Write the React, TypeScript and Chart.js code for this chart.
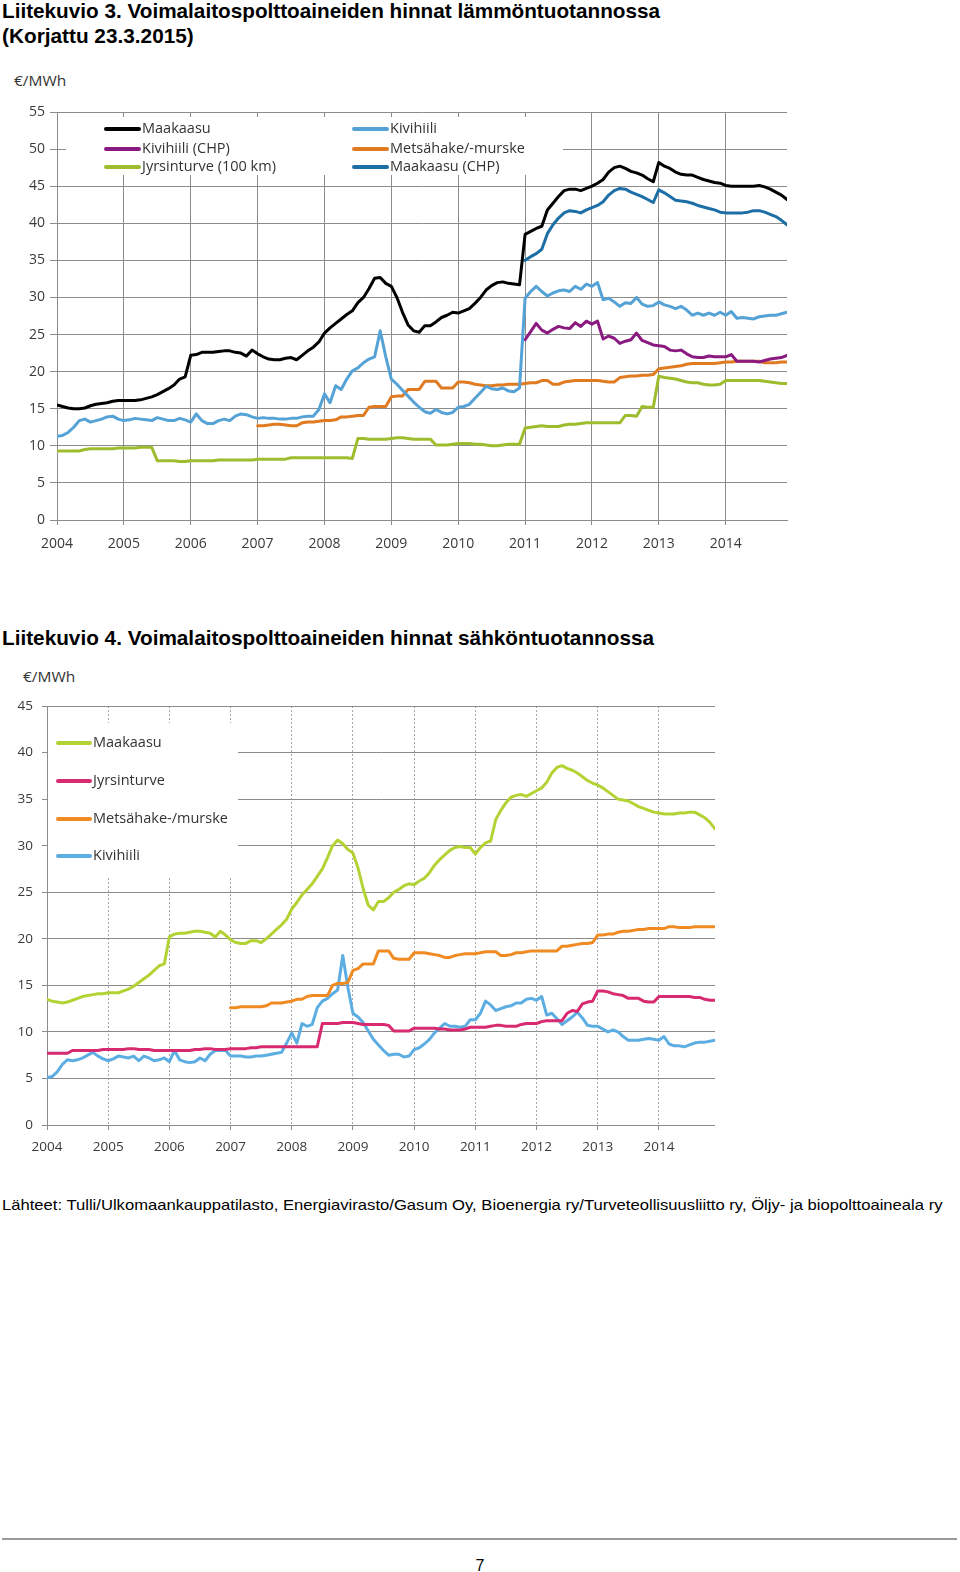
import React, { useEffect, useLayoutEffect, useRef, useState } from 'react';
import { Chart, registerables } from 'chart.js';

Chart.register(...registerables);

// ---------------- shared axis data ----------------
const FIRST_YEAR = 2004;
const YEAR_LABELS = ['2004', '2005', '2006', '2007', '2008', '2009', '2010', '2011', '2012', '2013', '2014'];
const LAST_MONTH_INDEX = 131; // Dec 2014

// ---------------- Liitekuvio 3 (lämmöntuotanto), €/MWh, monthly ----------------
const HEAT_Y_MAX = 55;
const HEAT_MAAKAASU = [
  15.5, 15.3, 15.1, 15.0, 15.0, 15.1, 15.4, 15.6, 15.7, 15.8, 16.0, 16.1,
  16.1, 16.1, 16.1, 16.2, 16.4, 16.6, 16.9, 17.3, 17.7, 18.2, 19.0, 19.3,
  22.2, 22.3, 22.6, 22.6, 22.6, 22.7, 22.8, 22.8, 22.6, 22.5, 22.1, 22.9,
  22.4, 22.0, 21.7, 21.6, 21.6, 21.8, 21.9, 21.6, 22.2, 22.8, 23.3, 24.0,
  25.2, 25.9, 26.5, 27.1, 27.7, 28.2, 29.3, 30.0, 31.2, 32.6, 32.7, 31.9,
  31.5, 30.0, 28.0, 26.3, 25.5, 25.3, 26.2, 26.2, 26.7, 27.3, 27.6, 28.0,
  27.9, 28.2, 28.5, 29.2, 30.0, 31.0, 31.6, 32.0, 32.1, 31.9, 31.8, 31.7,
  38.5, 38.9, 39.3, 39.6, 41.8, 42.7, 43.6, 44.4, 44.6, 44.6, 44.4, 44.7,
  45.0, 45.4, 45.9, 46.9, 47.5, 47.7, 47.4, 47.0, 46.8, 46.5, 46.0, 45.6,
  48.2, 47.7, 47.4, 46.9, 46.6, 46.5, 46.5, 46.2, 45.9, 45.7, 45.5, 45.4,
  45.1, 45.0, 45.0, 45.0, 45.0, 45.0, 45.1, 44.9, 44.6, 44.2, 43.8, 43.2,
];
const HEAT_KIVIHIILI = [
  11.3, 11.4, 11.8, 12.5, 13.4, 13.6, 13.2, 13.4, 13.6, 13.9, 14.0, 13.6,
  13.4, 13.5, 13.7, 13.6, 13.5, 13.4, 13.8, 13.6, 13.4, 13.4, 13.7, 13.5,
  13.2, 14.3, 13.4, 13.0, 13.0, 13.4, 13.6, 13.4, 14.0, 14.3, 14.2, 13.9,
  13.7, 13.8, 13.7, 13.7, 13.6, 13.6, 13.7, 13.7, 13.9, 14.0, 14.0, 14.9,
  17.0, 15.8, 18.1, 17.6, 19.0, 20.1, 20.5, 21.2, 21.7, 22.0, 25.5, 22.0,
  19.0, 18.3, 17.5, 16.7, 15.9, 15.2, 14.6, 14.4, 14.9, 14.5, 14.3, 14.5,
  15.2, 15.3, 15.6, 16.4, 17.2, 18.0, 17.7, 17.6, 17.8, 17.4, 17.3, 17.8,
  29.9, 30.8, 31.5, 30.8, 30.2, 30.6, 30.9, 31.0, 30.8, 31.5, 31.1, 31.8,
  31.5, 32.0, 29.7, 29.9, 29.4, 28.8, 29.3, 29.2, 30.0, 29.1, 28.8, 28.9,
  29.4, 29.0, 28.8, 28.5, 28.8, 28.3, 27.6, 27.9, 27.6, 27.9, 27.6, 28.0,
  27.6, 28.1, 27.2, 27.3, 27.2, 27.1, 27.4, 27.5, 27.6, 27.6, 27.8, 28.0,
];
const HEAT_KIVIHIILI_CHP_START = 2011;
const HEAT_KIVIHIILI_CHP = [
  24.3, 25.4, 26.5, 25.6, 25.2, 25.7, 26.1, 25.9, 25.8, 26.6, 26.1, 26.8,
  26.4, 26.8, 24.4, 24.8, 24.5, 23.8, 24.1, 24.3, 25.2, 24.2, 23.9, 23.6,
  23.5, 23.4, 22.9, 22.8, 22.9, 22.4, 22.0, 21.9, 21.9, 22.1, 22.0, 22.0,
  22.0, 22.3, 21.4, 21.4, 21.4, 21.4, 21.3, 21.5, 21.7, 21.8, 21.9, 22.2,
];
const HEAT_METSAHAKE_START = 2007;
const HEAT_METSAHAKE = [
  12.7, 12.7, 12.8, 12.9, 12.9, 12.8, 12.7, 12.7, 13.1, 13.2, 13.2, 13.3,
  13.4, 13.4, 13.5, 13.9, 13.9, 14.0, 14.1, 14.1, 15.2, 15.3, 15.3, 15.3,
  16.6, 16.7, 16.7, 17.6, 17.6, 17.6, 18.7, 18.7, 18.7, 17.8, 17.8, 17.8,
  18.6, 18.6, 18.5, 18.3, 18.2, 18.1, 18.1, 18.2, 18.2, 18.3, 18.3, 18.3,
  18.4, 18.5, 18.5, 18.8, 18.8, 18.3, 18.3, 18.6, 18.7, 18.8, 18.8, 18.8,
  18.8, 18.8, 18.7, 18.6, 18.6, 19.2, 19.3, 19.4, 19.4, 19.5, 19.5, 19.6,
  20.4, 20.5, 20.6, 20.7, 20.8, 21.0, 21.1, 21.1, 21.1, 21.1, 21.1, 21.2,
  21.3, 21.3, 21.4, 21.4, 21.4, 21.4, 21.4, 21.2, 21.2, 21.2, 21.3, 21.3,
];
const HEAT_JYRSINTURVE = [
  9.3, 9.3, 9.3, 9.3, 9.3, 9.5, 9.6, 9.6, 9.6, 9.6, 9.6, 9.7,
  9.7, 9.7, 9.7, 9.8, 9.8, 9.8, 8.0, 8.0, 8.0, 8.0, 7.9, 7.9,
  8.0, 8.0, 8.0, 8.0, 8.0, 8.1, 8.1, 8.1, 8.1, 8.1, 8.1, 8.1,
  8.2, 8.2, 8.2, 8.2, 8.2, 8.2, 8.4, 8.4, 8.4, 8.4, 8.4, 8.4,
  8.4, 8.4, 8.4, 8.4, 8.4, 8.3, 11.0, 11.0, 10.9, 10.9, 10.9, 10.9,
  11.0, 11.1, 11.1, 11.0, 10.9, 10.9, 10.9, 10.9, 10.1, 10.1, 10.1, 10.2,
  10.3, 10.3, 10.3, 10.2, 10.2, 10.1, 10.0, 10.0, 10.1, 10.2, 10.2, 10.2,
  12.4, 12.5, 12.6, 12.7, 12.6, 12.6, 12.6, 12.8, 12.9, 12.9, 13.0, 13.1,
  13.1, 13.1, 13.1, 13.1, 13.1, 13.1, 14.1, 14.1, 14.0, 15.3, 15.2, 15.2,
  19.4, 19.2, 19.1, 19.0, 18.8, 18.6, 18.5, 18.5, 18.3, 18.2, 18.2, 18.3,
  18.8, 18.8, 18.8, 18.8, 18.8, 18.8, 18.8, 18.7, 18.6, 18.5, 18.4, 18.4,
];
const HEAT_MAAKAASU_CHP_START = 2011;
const HEAT_MAAKAASU_CHP = [
  35.0, 35.5, 35.9, 36.5, 38.6, 39.8, 40.7, 41.4, 41.7, 41.6, 41.4, 41.8,
  42.1, 42.4, 42.9, 43.8, 44.4, 44.7, 44.6, 44.2, 43.9, 43.6, 43.2, 42.8,
  44.5, 44.1, 43.6, 43.1, 43.0, 42.9, 42.7, 42.4, 42.2, 42.0, 41.8, 41.5,
  41.4, 41.4, 41.4, 41.4, 41.5, 41.7, 41.7, 41.5, 41.2, 40.9, 40.4, 39.8,
];

// ---------------- Liitekuvio 4 (sähköntuotanto), €/MWh, monthly ----------------
const EL_Y_MAX = 45;
const EL_MAAKAASU = [
  13.5, 13.3, 13.2, 13.1, 13.2, 13.4, 13.6, 13.8, 13.9, 14.0, 14.1, 14.1,
  14.2, 14.2, 14.2, 14.4, 14.6, 14.9, 15.3, 15.7, 16.1, 16.6, 17.1, 17.3,
  20.2, 20.5, 20.6, 20.6, 20.7, 20.8, 20.8, 20.7, 20.6, 20.2, 20.8, 20.4,
  19.9, 19.6, 19.5, 19.5, 19.8, 19.8, 19.6, 20.0, 20.5, 21.0, 21.5, 22.1,
  23.2, 23.9, 24.7, 25.3, 25.9, 26.7, 27.5, 28.7, 30.0, 30.6, 30.2, 29.6,
  29.2, 27.6, 25.4, 23.6, 23.1, 24.0, 24.0, 24.4, 25.0, 25.3, 25.7, 25.9,
  25.8, 26.2, 26.5, 27.1, 27.9, 28.5, 29.0, 29.5, 29.8, 29.9, 29.8, 29.8,
  29.1, 29.8, 30.3, 30.5, 32.8, 33.8, 34.6, 35.2, 35.4, 35.5, 35.3, 35.6,
  35.9, 36.2, 36.8, 37.8, 38.4, 38.6, 38.3, 38.1, 37.8, 37.4, 37.0, 36.7,
  36.5, 36.2, 35.8, 35.4, 35.0, 34.9, 34.8, 34.5, 34.2, 34.0, 33.8, 33.6,
  33.5, 33.4, 33.4, 33.4, 33.5, 33.5, 33.6, 33.6, 33.3, 33.0, 32.5, 31.8,
];
const EL_JYRSINTURVE = [
  7.7, 7.7, 7.7, 7.7, 7.7, 8.0, 8.0, 8.0, 8.0, 8.0, 8.0, 8.1,
  8.1, 8.1, 8.1, 8.1, 8.2, 8.2, 8.1, 8.1, 8.1, 8.0, 8.0, 8.0,
  8.0, 8.0, 8.0, 8.0, 8.0, 8.1, 8.1, 8.2, 8.2, 8.1, 8.1, 8.1,
  8.2, 8.2, 8.2, 8.2, 8.3, 8.3, 8.4, 8.4, 8.4, 8.4, 8.4, 8.4,
  8.4, 8.4, 8.4, 8.4, 8.4, 8.4, 10.9, 10.9, 10.9, 10.9, 11.0, 11.0,
  11.0, 10.9, 10.8, 10.8, 10.8, 10.8, 10.8, 10.7, 10.1, 10.1, 10.1, 10.1,
  10.4, 10.4, 10.4, 10.4, 10.4, 10.3, 10.3, 10.2, 10.2, 10.2, 10.3, 10.5,
  10.5, 10.5, 10.5, 10.6, 10.7, 10.7, 10.6, 10.6, 10.6, 10.8, 10.9, 10.9,
  10.9, 11.1, 11.2, 11.2, 11.2, 11.2, 12.0, 12.3, 12.2, 13.0, 13.2, 13.3,
  14.4, 14.4, 14.3, 14.1, 14.0, 13.9, 13.6, 13.6, 13.6, 13.3, 13.2, 13.2,
  13.8, 13.8, 13.8, 13.8, 13.8, 13.8, 13.8, 13.7, 13.7, 13.5, 13.4, 13.4,
];
const EL_METSAHAKE_START = 2007;
const EL_METSAHAKE = [
  12.6, 12.6, 12.7, 12.7, 12.7, 12.7, 12.7, 12.8, 13.1, 13.1, 13.1, 13.2,
  13.3, 13.5, 13.5, 13.8, 13.9, 13.9, 13.9, 13.9, 15.0, 15.2, 15.2, 15.3,
  16.6, 16.8, 17.3, 17.3, 17.3, 18.7, 18.7, 18.7, 17.9, 17.8, 17.8, 17.8,
  18.5, 18.5, 18.5, 18.4, 18.3, 18.2, 18.0, 18.0, 18.2, 18.3, 18.4, 18.4,
  18.4, 18.5, 18.6, 18.6, 18.6, 18.2, 18.2, 18.3, 18.5, 18.5, 18.6, 18.7,
  18.7, 18.7, 18.7, 18.7, 18.7, 19.2, 19.2, 19.3, 19.4, 19.5, 19.5, 19.6,
  20.4, 20.4, 20.5, 20.5, 20.7, 20.8, 20.8, 20.9, 21.0, 21.0, 21.1, 21.1,
  21.1, 21.1, 21.3, 21.3, 21.2, 21.2, 21.2, 21.3, 21.3, 21.3, 21.3, 21.3,
];
const EL_KIVIHIILI = [
  5.1, 5.2, 5.7, 6.5, 7.0, 6.9, 7.0, 7.2, 7.5, 7.8, 7.4, 7.1,
  6.9, 7.1, 7.4, 7.3, 7.2, 7.4, 6.9, 7.4, 7.2, 6.9, 7.0, 7.2,
  6.8, 8.0, 7.0, 6.8, 6.7, 6.8, 7.2, 6.9, 7.6, 8.0, 8.0, 8.0,
  7.4, 7.4, 7.4, 7.3, 7.3, 7.4, 7.4, 7.5, 7.6, 7.7, 7.8, 8.8,
  9.9, 8.8, 10.9, 10.6, 10.8, 12.6, 13.3, 13.6, 14.1, 14.5, 18.2, 14.8,
  12.0, 11.6, 11.0, 10.1, 9.2, 8.6, 8.0, 7.5, 7.6, 7.6, 7.3, 7.4,
  8.1, 8.3, 8.7, 9.2, 9.9, 10.4, 10.9, 10.6, 10.6, 10.5, 10.6, 11.3,
  11.3, 12.0, 13.3, 12.9, 12.3, 12.5, 12.7, 12.8, 13.1, 13.1, 13.5, 13.6,
  13.4, 13.8, 11.8, 12.0, 11.4, 10.8, 11.2, 11.6, 12.1, 11.5, 10.7, 10.6,
  10.6, 10.3, 10.0, 10.2, 10.0, 9.5, 9.1, 9.1, 9.1, 9.2, 9.3, 9.2,
  9.1, 9.5, 8.7, 8.5, 8.5, 8.4, 8.6, 8.8, 8.9, 8.9, 9.0, 9.1,
];

// ---------------- helpers ----------------
function monthly(values: number[], startYear: number = FIRST_YEAR) {
  const off = (startYear - FIRST_YEAR) * 12;
  return values.map((y, i) => ({ x: off + i, y }));
}

function lineDs(label: string, color: string, data: { x: number; y: number }[]) {
  return {
    label,
    data,
    borderColor: color,
    backgroundColor: color,
    borderWidth: 3,
    pointRadius: 0,
    pointHoverRadius: 0,
    tension: 0,
    fill: false,
    borderJoinStyle: 'round' as const,
    borderCapStyle: 'round' as const,
  };
}

const boxLegend = {
  id: 'boxLegend',
  beforeDatasetsDraw(chart: any, _args: any, opts: any) {
    const { ctx } = chart;
    ctx.save();
    ctx.fillStyle = '#ffffff';
    ctx.fillRect(opts.box.x, opts.box.y, opts.box.w, opts.box.h);
    chart.data.datasets.forEach((ds: any, i: number) => {
      const s = opts.slots[i];
      if (!s) return;
      ctx.strokeStyle = ds.borderColor;
      ctx.lineWidth = opts.lineWidth;
      ctx.lineCap = 'round';
      ctx.beginPath();
      ctx.moveTo(s.x + 1, s.y);
      ctx.lineTo(s.x + opts.sample - 1, s.y);
      ctx.stroke();
      ctx.fillStyle = opts.color;
      ctx.font = opts.font;
      ctx.textAlign = 'left';
      ctx.textBaseline = 'middle';
      ctx.fillText(ds.label, s.x + opts.sample + 2, s.y);
    });
    ctx.restore();
  },
};

const TICK_COLOR = '#3a3a3a';
const GRID_COLOR = '#8c8c8c';

function makeConfig(p: {
  datasets: any[];
  yMax: number;
  yWidth: number;
  xHeight: number;
  padTop: number;
  padRight: number;
  yTickLen: number;
  yPad: number;
  xTickLen: number;
  xPad: number;
  tickSize: number;
  dottedX: boolean;
  legend: any;
}) {
  return {
    type: 'line' as const,
    data: { datasets: p.datasets },
    plugins: [boxLegend],
    options: {
      responsive: false,
      animation: false as const,
      devicePixelRatio: 1,
      events: [],
      layout: { padding: { top: p.padTop, right: p.padRight, left: 0, bottom: 0 } },
      plugins: {
        legend: { display: false },
        tooltip: { enabled: false },
        boxLegend: p.legend,
      },
      scales: {
        x: {
          type: 'linear' as const,
          min: 0,
          max: LAST_MONTH_INDEX,
          afterFit: (s: any) => { s.height = p.xHeight; },
          ticks: {
            stepSize: 12,
            includeBounds: false,
            autoSkip: false,
            maxRotation: 0,
            padding: p.xPad,
            color: TICK_COLOR,
            font: { family: 'Open Sans', size: p.tickSize },
            callback: (v: number) => YEAR_LABELS[Math.round(v / 12)] ?? '',
          },
          grid: {
            color: p.dottedX ? '#a6a6a6' : GRID_COLOR,
            lineWidth: 1,
            tickLength: p.xTickLen,
            tickColor: GRID_COLOR,
            tickBorderDash: [1, 0],
            borderDash: p.dottedX ? [2, 2] : [],
          },
          border: { display: !p.dottedX, color: GRID_COLOR, width: 1, dash: p.dottedX ? [2, 2] : [] },
        },
        y: {
          type: 'linear' as const,
          min: 0,
          max: p.yMax,
          afterFit: (s: any) => { s.width = p.yWidth; },
          ticks: {
            stepSize: 5,
            padding: p.yPad,
            color: TICK_COLOR,
            font: { family: 'Open Sans', size: p.tickSize },
          },
          grid: { color: GRID_COLOR, lineWidth: 1, tickLength: p.yTickLen, tickColor: GRID_COLOR },
          border: { display: true, color: GRID_COLOR, width: 1 },
        },
      },
    },
  };
}

function ChartCanvas({ make, left, top, width, height }: any) {
  const ref = useRef<HTMLCanvasElement>(null);
  useEffect(() => {
    if (!ref.current) return;
    const chart = new Chart(ref.current, make());
    return () => chart.destroy();
  }, []);
  return (
    <canvas
      ref={ref}
      width={width}
      height={height}
      style={{ position: 'absolute', left, top, width, height, display: 'block' }}
    />
  );
}

function FitText({ text, x, y, width, size, weight = 400, family, color = '#000' }: any) {
  const ref = useRef<HTMLSpanElement>(null);
  const [k, setK] = useState(1);
  useLayoutEffect(() => {
    const el = ref.current;
    if (!el) return;
    const w = el.offsetWidth;
    if (w > 0) setK(width / w);
  }, [text, width, size]);
  return (
    <span
      ref={ref}
      style={{
        position: 'absolute',
        left: x,
        top: y,
        fontSize: size,
        fontWeight: weight,
        fontFamily: family,
        color,
        whiteSpace: 'nowrap',
        lineHeight: 1,
        transformOrigin: '0 0',
        transform: `scaleX(${k})`,
      }}
    >
      {text}
    </span>
  );
}

const ARIAL = '"Liberation Sans", Arial, sans-serif';
const CAL = '"Open Sans", sans-serif';

export default function App() {
  const heatConfig = () =>
    makeConfig({
      datasets: [
        lineDs('Maakaasu', '#000000', monthly(HEAT_MAAKAASU)),
        lineDs('Kivihiili', '#54a2d6', monthly(HEAT_KIVIHIILI)),
        lineDs('Kivihiili (CHP)', '#8b1a80', monthly(HEAT_KIVIHIILI_CHP, HEAT_KIVIHIILI_CHP_START)),
        lineDs('Metsähake/-murske', '#e07b22', monthly(HEAT_METSAHAKE, HEAT_METSAHAKE_START)),
        lineDs('Jyrsinturve (100 km)', '#9dbd2f', monthly(HEAT_JYRSINTURVE)),
        lineDs('Maakaasu (CHP)', '#1c6ea6', monthly(HEAT_MAAKAASU_CHP, HEAT_MAAKAASU_CHP_START)),
      ],
      yMax: HEAT_Y_MAX,
      yWidth: 57,
      xHeight: 40,
      padTop: 52,
      padRight: 13,
      yTickLen: 7,
      yPad: 5,
      xTickLen: 5,
      xPad: 11,
      tickSize: 14,
      dottedX: false,
      legend: {
        box: { x: 66, y: 57, w: 497, h: 58 },
        slots: [
          { x: 105, y: 69 },
          { x: 353, y: 69 },
          { x: 105, y: 89 },
          { x: 353, y: 89 },
          { x: 105, y: 107 },
          { x: 353, y: 107 },
        ],
        sample: 35,
        lineWidth: 4,
        color: '#333333',
        font: '14.5px "Open Sans"',
      },
    });

  const elConfig = () =>
    makeConfig({
      datasets: [
        lineDs('Maakaasu', '#b3d335', monthly(EL_MAAKAASU)),
        lineDs('Jyrsinturve', '#d82a70', monthly(EL_JYRSINTURVE)),
        lineDs('Metsähake-/murske', '#f08b24', monthly(EL_METSAHAKE, EL_METSAHAKE_START)),
        lineDs('Kivihiili', '#5cade2', monthly(EL_KIVIHIILI)),
      ],
      yMax: EL_Y_MAX,
      yWidth: 47,
      xHeight: 35,
      padTop: 46,
      padRight: 45,
      yTickLen: 5,
      yPad: 9,
      xTickLen: 5,
      xPad: 9,
      tickSize: 13.5,
      dottedX: true,
      legend: {
        box: { x: 48, y: 63, w: 190, h: 154 },
        slots: [
          { x: 57, y: 83 },
          { x: 57, y: 121 },
          { x: 57, y: 159 },
          { x: 57, y: 196 },
        ],
        sample: 34,
        lineWidth: 4,
        color: '#333333',
        font: '14.5px "Open Sans"',
      },
    });

  return (
    <div
      style={{
        position: 'absolute',
        left: 0,
        top: 0,
        width: 960,
        height: 1572,
        background: '#ffffff',
        overflow: 'hidden',
      }}
    >
      <FitText text="Liitekuvio 3. Voimalaitospolttoaineiden hinnat lämmöntuotannossa" x={2} y={0} width={658} size={21} weight={700} family={ARIAL} />
      <FitText text="(Korjattu 23.3.2015)" x={2} y={25} width={192} size={21} weight={700} family={ARIAL} />
      <FitText text="€/MWh" x={14} y={74} width={52} size={14} family={CAL} color="#333" />
      <ChartCanvas make={heatConfig} left={0} top={60} width={800} height={500} />

      <FitText text="Liitekuvio 4. Voimalaitospolttoaineiden hinnat sähköntuotannossa" x={2} y={627} width={652} size={21} weight={700} family={ARIAL} />
      <FitText text="€/MWh" x={23} y={670} width={52} size={14} family={CAL} color="#333" />
      <ChartCanvas make={elConfig} left={0} top={660} width={760} height={500} />

      <FitText
        text="Lähteet: Tulli/Ulkomaankauppatilasto, Energiavirasto/Gasum Oy, Bioenergia ry/Turveteollisuusliitto ry, Öljy- ja biopolttoaineala ry"
        x={2}
        y={1197}
        width={940}
        size={15}
        family={ARIAL}
      />
      <div style={{ position: 'absolute', left: 2, top: 1538, width: 955, height: 2, background: '#9a9a9a' }} />
      <div
        style={{
          position: 'absolute',
          left: 470,
          top: 1558,
          width: 20,
          textAlign: 'center',
          fontFamily: ARIAL,
          fontSize: 16,
          lineHeight: 1,
          color: '#000',
        }}
      >
        7
      </div>
    </div>
  );
}
